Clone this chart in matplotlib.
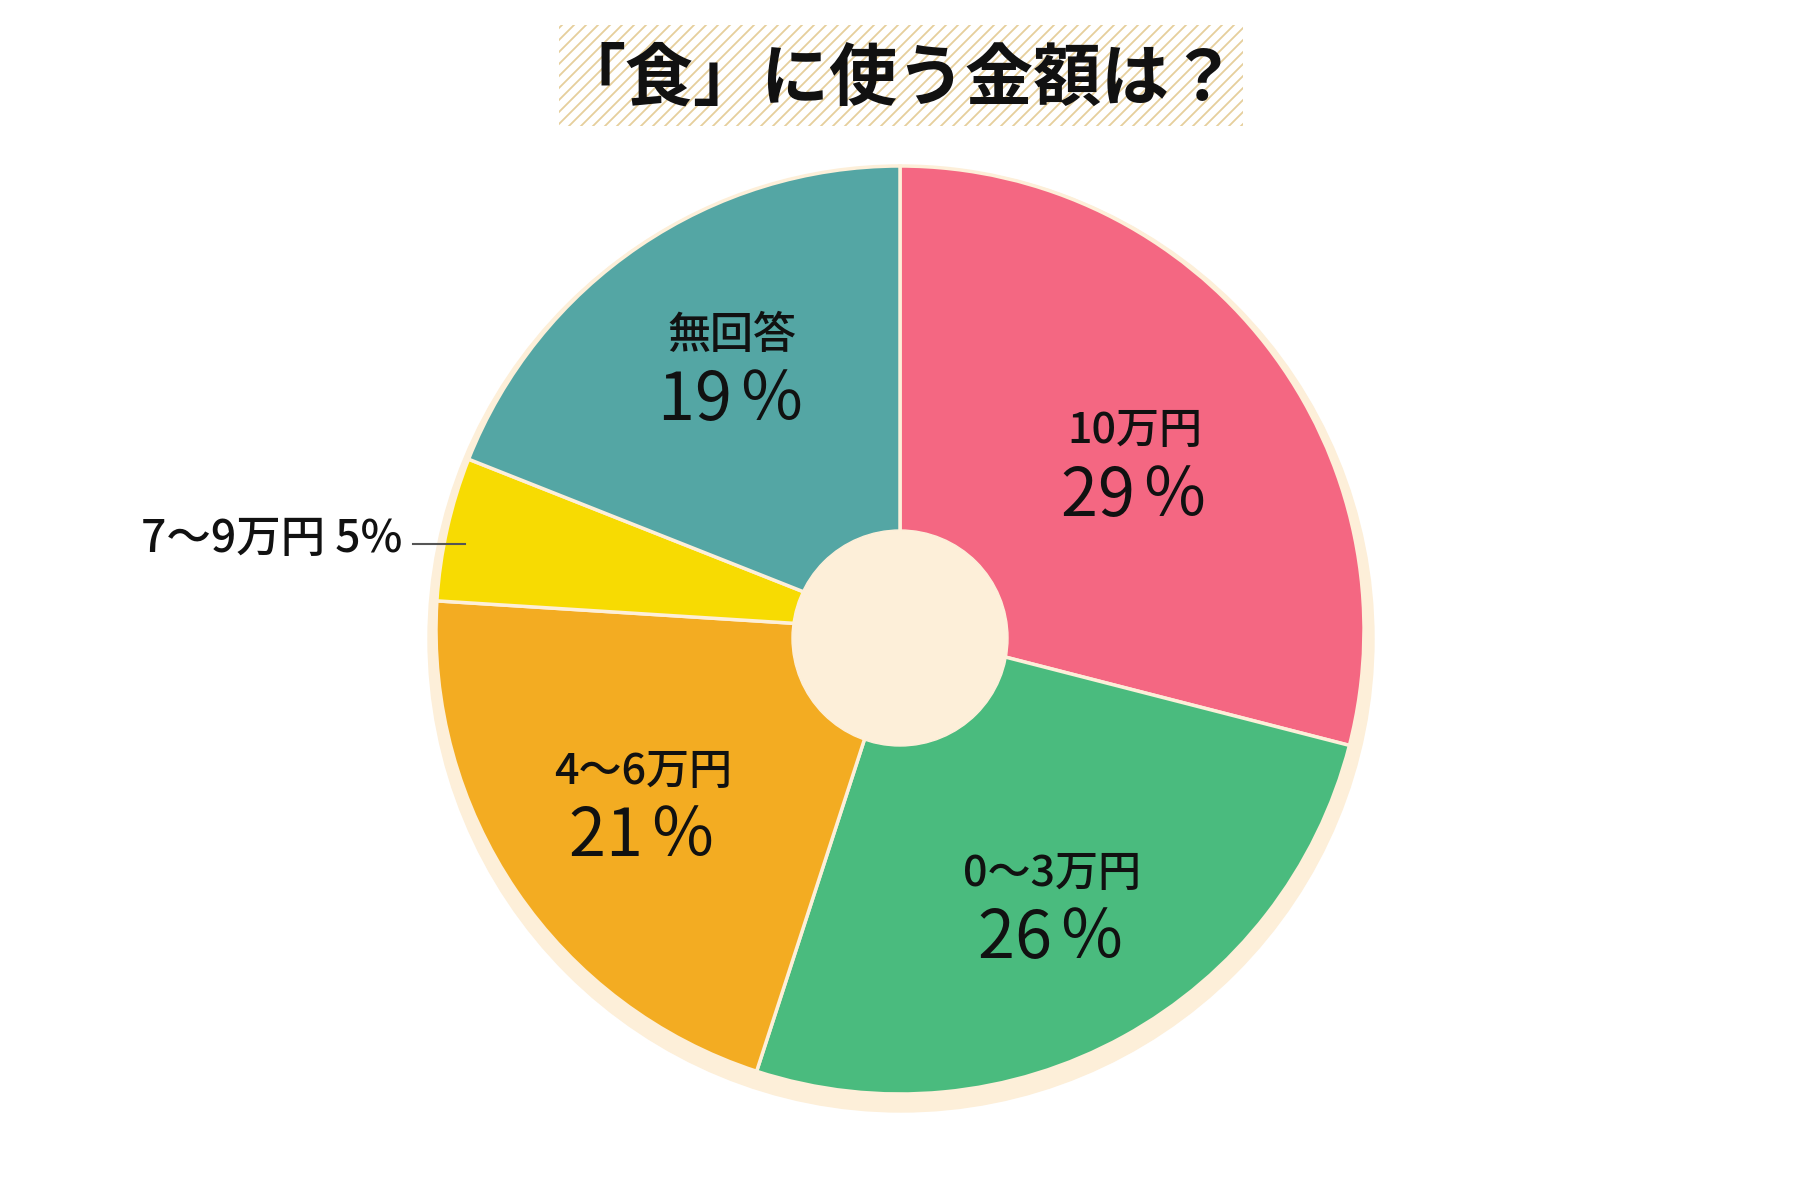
import matplotlib.pyplot as plt
import matplotlib.patches as mpatches
import numpy as np

plt.rcParams['font.family'] = ['Noto Sans CJK JP', 'DejaVu Sans']

title = "「食」に使う金額は？"
categories = ["10万円", "0～3万円", "4～6万円", "7～9万円", "無回答"]
values = [29, 26, 21, 5, 19]
colors = ["#F46782", "#4ABB7E", "#F3AC22", "#F7DB02", "#54A6A4"]
cream = "#FDEFD9"

W, H = 1800, 1200
def Y(y):
    # image row -> axes y
    return H - y

fig = plt.figure(figsize=(18, 12), dpi=100)
ax = fig.add_axes([0, 0, 1, 1])

# cream disk behind the pie
ax.add_patch(mpatches.Circle((901, Y(639)), 473, color=cream, zorder=0))

wedges, _ = ax.pie(values, colors=colors, startangle=90, counterclock=False,
                   center=(900, Y(630)), radius=464,
                   wedgeprops=dict(edgecolor=cream, linewidth=2.5))

# hole
ax.add_patch(mpatches.Circle((900, Y(638)), 108, color=cream, zorder=5))

# labels inside wedges
label_r = [0.62, 0.68, 0.67, None, 0.67]
label_da = [-2.5, 0, 0, 0, -1.5]
for w, cat, v, fr, da in zip(wedges, categories, values, label_r, label_da):
    if fr is None:
        continue
    mid = np.deg2rad((w.theta1 + w.theta2) / 2 + da)
    x = 900 + 464 * fr * np.cos(mid)
    y = Y(630) + 464 * fr * np.sin(mid)
    ax.text(x, y + 33, cat, ha='center', va='center', fontsize=31,
            fontweight='medium', color='#111111', zorder=6)
    ax.text(x, y - 33, f"{v}\u200a％", ha='center', va='center', fontsize=48,
            color='#111111', zorder=6)

# small slice label outside
ax.text(402, Y(540), f"{categories[3]} {values[3]}%", ha='right', va='center',
        fontsize=32, fontweight='medium', color='#111111')
ax.plot([413, 465], [Y(544), Y(544)], color='#555555', lw=1.5, zorder=6)

# title with hatched box
box = mpatches.Rectangle((559, Y(126)), 684, 101, facecolor='white',
                         edgecolor='none', zorder=1)
ax.add_patch(box)
for x0 in np.arange(559 - 110, 1243 + 10, 12):
    ln, = ax.plot([x0, x0 + 110], [Y(126), Y(16)], color='#E6CF9C', lw=1.3, zorder=2)
    ln.set_clip_path(box)
ax.text(897, Y(80), title, ha='center', va='center', fontsize=49,
        fontweight='bold', color='#111111', zorder=3)

ax.set_xlim(0, W)
ax.set_ylim(0, H)
ax.set_aspect('equal')
ax.axis('off')

fig.savefig("out.png", dpi=100, facecolor='white')
